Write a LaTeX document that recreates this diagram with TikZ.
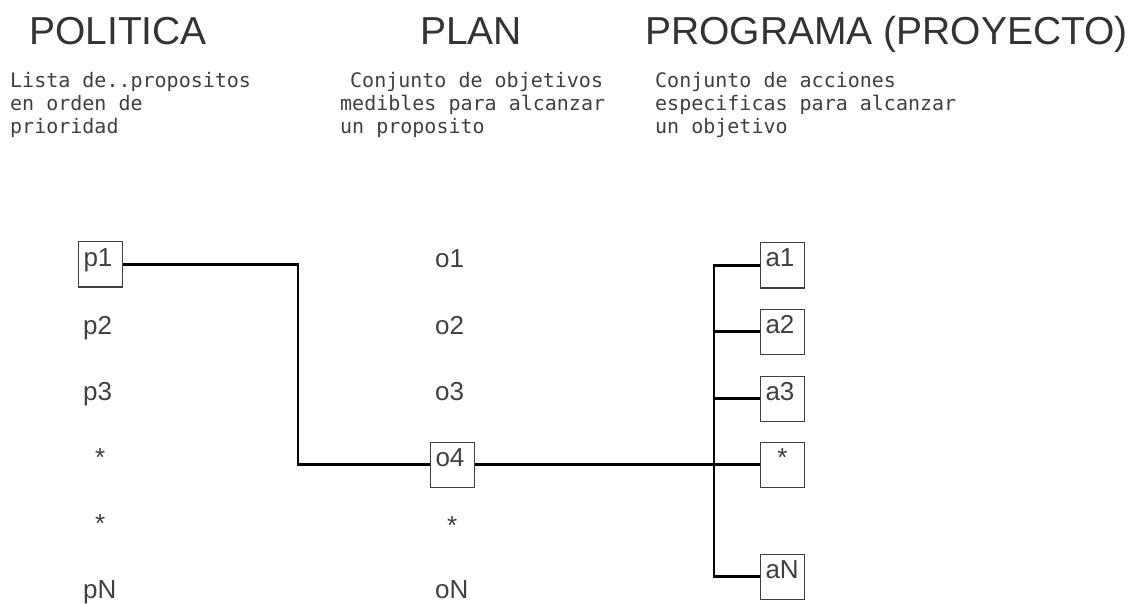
\documentclass[tikz,border=0pt]{standalone}
\usepackage{fontspec}
\setmainfont{Liberation Sans}
\newfontfamily\descfont{DejaVu Sans Mono}

\begin{document}
\begin{tikzpicture}[x=1pt,y=-1pt]
\tikzset{
  title/.style={font=\fontsize{39}{39}\selectfont, inner sep=0pt, anchor=base west, text=black!80},
  desc/.style={font=\descfont\fontsize{20}{23}\selectfont, inner sep=0pt, anchor=base west, align=left, text=black!75},
  item/.style={font=\fontsize{26}{26}\selectfont, text=black!75, anchor=base west,
    inner xsep=5pt, inner ysep=0pt, text width=34pt, text height=24pt, text depth=21pt, align=left},
  star/.style={item, align=center},
  boxed/.style={draw=black!75, line width=1pt},
  wire/.style={line width=2.6pt, line join=miter}
}
\useasboundingbox (0,0) rectangle (1141,604);

% titles and texts (base = last line)
\node[title] (politica) at (29,45) {POLITICA};
\node[title] (plan) at (420,45) {PLAN};
\node[title] (programa) at (645,45) {PROGRAMA (PROYECTO)};

\node[desc] (dpolitica) at (10,134) {Lista de..propositos\\en orden de\\prioridad};
\node[desc] (dplan) at (340,134) {\hspace*{10pt}Conjunto de objetivos\\medibles para alcanzar\\un proposito};
\node[desc] (dprograma) at (655,134) {Conjunto de acciones\\especificas para alcanzar\\un objetivo};

% propositos
\node[item, boxed] (p1) at (78,266) {p1};
\node[item] (p2) at (78,334) {p2};
\node[item] (p3) at (78,400) {p3};
\node[star] (p4) at (78,466) {*};
\node[star] (p5) at (78,532) {*};
\node[item] (pN) at (78,598) {pN};

% objetivos
\node[item] (o1) at (430,268) {o1};
\node[item] (o2) at (430,334) {o2};
\node[item] (o3) at (430,400) {o3};
\node[item, boxed] (o4) at (430,466) {o4};
\node[star] (o5) at (430,534) {*};
\node[item] (oN) at (430,598) {oN};

% acciones
\node[item, boxed] (a1) at (760,267) {a1};
\node[item, boxed] (a2) at (760,333) {a2};
\node[item, boxed] (a3) at (760,400) {a3};
\node[star, boxed] (a4) at (760,466) {*};
\node[item, boxed] (aN) at (760,578) {aN};

\coordinate (turn) at (298,400);
\coordinate (bus) at (714,400);

\draw[wire] (p1.east) -| (turn) |- (o4.west);
\draw[wire] (o4.east) -- (o4.east -| bus);
\draw[wire] (a1.west) -| (aN.west -| bus) -- (aN.west);
\foreach \n in {a2,a3,a4}
  \draw[wire] (\n.west -| bus) -- (\n.west);
\end{tikzpicture}
\end{document}
